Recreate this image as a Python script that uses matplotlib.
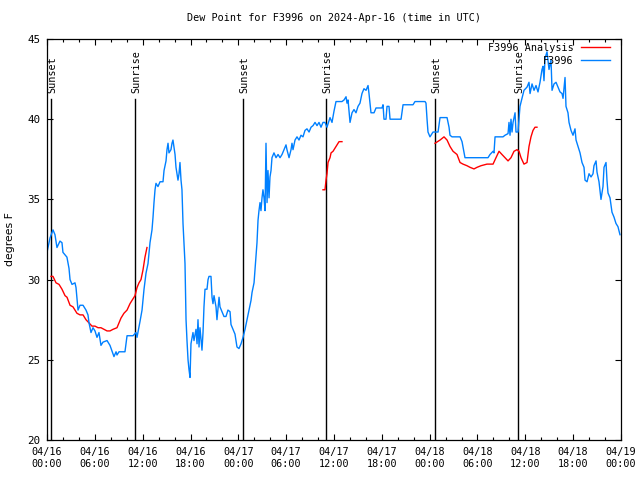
import numpy as np
from matplotlib import pyplot as plt

# hours since 2024-04-16 00:00 UTC
obs_hours = [0.0, 0.38, 0.75, 1.0, 1.25, 1.63, 1.88, 2.0, 2.5, 2.76, 2.89, 3.14, 3.51, 3.64, 3.89,
             4.14, 4.52, 4.89, 5.14, 5.27, 5.52, 5.77, 6.02, 6.27, 6.52, 6.77, 7.02, 7.53, 7.9, 8.4,
             8.66, 8.78, 9.03, 9.78, 10.04, 10.79, 11.16, 11.29, 11.67, 11.92, 12.17, 12.42, 12.67,
             12.92, 13.17, 13.3, 13.42, 13.55, 13.67, 13.92, 14.18, 14.55, 14.68, 14.93, 15.05,
             15.18, 15.3, 15.55, 15.68, 15.8, 16.06, 16.18, 16.43, 16.56, 16.68, 16.81, 16.93,
             17.06, 17.31, 17.44, 17.56, 17.69, 17.81, 17.94, 18.06, 18.31, 18.44, 18.69, 18.82,
             18.94, 19.07, 19.19, 19.44, 19.57, 19.69, 19.82, 20.07, 20.2, 20.32, 20.57, 20.7,
             20.82, 20.95, 21.2, 21.32, 21.58, 21.7, 21.95, 22.2, 22.45, 22.7, 22.96, 23.08, 23.33,
             23.58, 23.83, 24.08, 24.34, 24.59, 24.84, 25.09, 25.34, 25.59, 25.72, 25.97, 26.09,
             26.22, 26.34, 26.47, 26.59, 26.72, 26.84, 26.97, 27.09, 27.22, 27.35, 27.47, 27.6,
             27.72, 27.85, 27.97, 28.1, 28.22, 28.47, 28.73, 28.98, 29.23, 29.48, 29.73, 29.98,
             30.1, 30.36, 30.61, 30.73, 30.86, 31.11, 31.36, 31.61, 31.86, 32.11, 32.36, 32.61,
             32.87, 33.12, 33.37, 33.62, 33.87, 34.12, 34.37, 34.62, 34.87, 35.12, 35.5, 35.75,
             36.0, 36.25, 37.0, 37.26, 37.51, 37.63, 37.76, 38.01, 38.26, 38.51, 38.76, 39.01,
             39.26, 39.51, 39.76, 40.02, 40.27, 40.39, 40.64, 41.02, 41.27, 42.02, 42.15, 42.27,
             42.52, 42.65, 42.9, 43.03, 44.41, 44.66, 45.91, 46.16, 47.42, 47.54, 47.67, 47.79,
             48.04, 48.42, 49.05, 49.3, 50.18, 50.43, 50.55, 50.8, 51.81, 52.06, 52.43, 54.06,
             55.32, 55.57, 55.95, 56.07, 56.2, 57.2, 57.45, 57.83, 57.95, 58.08, 58.2, 58.33,
             58.46, 58.71, 58.83, 59.08, 59.33, 59.58, 59.83, 60.21, 60.46, 60.59, 60.84, 61.09,
             61.34, 61.59, 61.84, 62.09, 62.22, 62.34, 62.47, 62.72, 62.97, 63.22, 63.35, 63.6,
             63.85, 64.1, 64.35, 64.6, 64.73, 64.98, 65.1, 65.35, 65.48, 65.73, 65.98, 66.23,
             66.36, 66.61, 66.86, 67.11, 67.36, 67.49, 67.74, 67.99, 68.24, 68.49, 68.61, 68.87,
             68.99, 69.24, 69.49, 69.74, 69.87, 70.12, 70.24, 70.37, 70.62, 70.87, 71.12, 71.37,
             71.62, 71.87]
obs_dewpt = [31.7, 32.6, 33.1, 32.8, 32.0, 32.4, 32.3, 31.7, 31.4, 30.7, 30.0, 29.7, 29.8, 29.5, 28.1,
             28.4, 28.4, 28.1, 27.8, 27.3, 26.7, 27.0, 26.8, 26.4, 26.7, 25.9, 26.1, 26.2, 25.9, 25.2,
             25.5, 25.3, 25.5, 25.5, 26.5, 26.5, 26.7, 26.4, 27.4, 28.1, 29.4, 30.4, 31.0,
             32.3, 33.1, 33.9, 34.8, 35.6, 36.0, 35.8, 36.1, 36.1, 36.8, 37.4, 38.1,
             38.5, 37.9, 38.1, 38.5, 38.7, 37.8, 37.0, 36.2, 36.6, 37.3, 36.2, 35.6,
             33.5, 31.0, 27.5, 26.2, 25.0, 24.4, 23.9, 26.0, 26.7, 26.2, 26.9, 26.0,
             27.5, 25.8, 27.0, 25.6, 26.7, 28.3, 29.4, 29.4, 30.0, 30.2, 30.2, 28.9,
             28.5, 29.0, 28.3, 27.5, 28.9, 28.3, 28.0, 27.7, 27.7, 28.1, 28.0, 27.2, 26.9,
             26.6, 25.8, 25.7, 26.0, 26.4, 26.9, 27.5, 28.1, 28.7, 29.2, 29.8, 30.6,
             31.4, 32.3, 33.7, 34.3, 34.8, 34.3, 35.1, 35.6, 35.1, 34.3, 38.5, 34.8,
             36.8, 35.1, 36.4, 36.8, 37.6, 37.9, 37.6, 37.8, 37.6, 37.8, 38.1, 38.4,
             38.1, 37.6, 38.1, 38.5, 38.1, 38.7, 38.9, 38.7, 39.0, 38.9, 39.3, 39.4,
             39.2, 39.5, 39.6, 39.8, 39.6, 39.8, 39.5, 39.8, 39.8, 39.5, 40.1, 39.8,
             40.5, 41.1, 41.1, 41.2, 41.4, 41.0, 41.2, 39.8, 40.4, 40.6, 40.4, 40.8,
             41.0, 41.6, 41.9, 41.8, 42.1, 41.6, 40.4, 40.4, 40.7, 40.7, 40.9, 40.0,
             40.0, 40.8, 40.8, 40.0, 40.0, 40.9, 40.9, 41.1, 41.1, 41.0, 40.0, 39.2,
             38.9, 39.2, 39.2, 40.1, 40.1, 39.5, 39.0, 38.9, 38.9, 38.6, 37.6, 37.6,
             37.6, 37.8, 38.0, 37.9, 38.9, 38.9, 39.0, 39.1, 39.8, 39.0, 40.0, 39.2,
             39.8, 40.4, 39.2, 39.2, 40.8, 41.3, 41.8, 42.0, 42.3, 41.6, 42.2, 41.8,
             42.1, 41.7, 42.3, 43.1, 43.3, 42.4, 43.8, 44.2, 43.1, 43.7, 41.8, 42.2,
             42.3, 42.0, 41.7, 41.6, 41.3, 42.6, 40.8, 40.4, 39.8, 39.3, 39.0, 39.4,
             38.7, 38.3, 37.9, 37.3, 37.0, 36.2, 36.1, 36.6, 36.4, 36.6, 37.1, 37.4,
             36.7, 36.1, 35.0, 35.8, 37.0, 37.3, 36.2, 35.4, 35.1, 34.2, 33.9, 33.5,
             33.3, 32.8]

# analysis, nan marks gaps between runs
ana_hours = [0.5, 0.75, 1.13, 1.51, 1.88, 2.26, 2.51, 2.89, 3.26, 3.51, 3.76, 4.14, 4.52, 4.89, 5.27,
             5.64, 6.02, 6.4, 6.77, 7.15, 7.53, 7.9, 8.28, 8.78, 9.03, 9.28, 9.65, 10.04, 10.41,
             10.66, 11.04, 11.29, 11.54, 11.79, 12.04, 12.29, 12.54, np.nan,
             34.62, 34.87, 35.0, 35.12, 35.25, 35.5, 35.63, 35.88, 36.13, 36.38, 36.63, 37.0, np.nan,
             48.67, 49.3, 49.8, 50.18, 50.55, 50.93, 51.43, 51.81, 52.18, 52.68, 53.06, 53.56,
             53.94, 54.44, 55.19, 55.95, 56.32, 56.7, 57.07, 57.45, 57.83, 58.2, 58.58, 58.96,
             59.21, 59.46, 59.83, 60.21, 60.46, 60.71, 60.96, 61.21, 61.46]
ana_dewpt = [30.2, 30.2, 29.8, 29.7, 29.4, 29.0, 28.9, 28.4, 28.3, 28.1, 27.9, 27.8, 27.8, 27.5, 27.3,
             27.1, 27.1, 27.0, 27.0, 26.9, 26.8, 26.8, 26.9, 27.0, 27.3, 27.6, 27.9, 28.1, 28.5,
             28.7, 29.0, 29.5, 29.8, 30.0, 30.6, 31.4, 32.0, np.nan,
             35.6, 35.6, 36.2, 36.6, 37.3, 37.6, 37.9, 38.0, 38.2, 38.4, 38.6, 38.6, np.nan,
             38.5, 38.7, 38.9, 38.7, 38.3, 38.0, 37.8, 37.3, 37.2, 37.1, 37.0, 36.9,
             37.0, 37.1, 37.2, 37.2, 37.6, 38.0, 37.8, 37.6, 37.4, 37.6, 38.0, 38.1,
             38.0, 37.6, 37.2, 37.3, 38.3, 38.9, 39.3, 39.5, 39.5]

sun_hours = [0.5, 11.05, 24.6, 35.0, 48.7, 59.1]
sun_names = ['Sunset', 'Sunrise', 'Sunset', 'Sunrise', 'Sunset', 'Sunrise']

tick_hours = list(range(0, 73, 6))
tick_labels = ['04/16\n00:00', '04/16\n06:00', '04/16\n12:00', '04/16\n18:00',
               '04/17\n00:00', '04/17\n06:00', '04/17\n12:00', '04/17\n18:00',
               '04/18\n00:00', '04/18\n06:00', '04/18\n12:00', '04/18\n18:00',
               '04/19\n00:00']

mono = 'DejaVu Sans Mono'
fs = 7.3

fig = plt.figure(figsize=(6.4, 4.8), dpi=100)
ax = fig.add_axes([47/640, 40/480, 574/640, 401/480])

for h, name in zip(sun_hours, sun_names):
    ax.plot([h, h], [20, 41.25], color='k', lw=1.0)
    ax.text(h + 0.15, 41.65, name, rotation=90, ha='center', va='bottom',
            family=mono, fontsize=fs)

ax.plot(ana_hours, ana_dewpt, color='#ff0000', lw=1.0, label='F3996 Analysis')
ax.plot(obs_hours, obs_dewpt, color='#0080ff', lw=1.0, label='F3996')

ax.set_xlim(0, 72)
ax.set_ylim(20, 45)
ax.set_xticks(tick_hours)
ax.set_xticklabels(tick_labels, family=mono, fontsize=fs, linespacing=1.25)
ax.set_xticks(np.arange(0, 73, 2), minor=True)
ax.set_yticks([20, 25, 30, 35, 40, 45])
ax.set_yticklabels(['20', '25', '30', '35', '40', '45'], family=mono, fontsize=fs + 0.5)
ax.tick_params(which='major', direction='in', length=4, width=0.8, top=True, right=True, pad=5)
ax.tick_params(which='minor', direction='in', length=2.2, width=0.8, top=True)
for s in ax.spines.values():
    s.set_linewidth(0.9)

ax.set_title('Dew Point for F3996 on 2024-Apr-16 (time in UTC)', family=mono, fontsize=fs, pad=13)
ax.set_ylabel('degrees F', fontsize=fs + 0.5)
ax.yaxis.set_label_coords(-0.056, 0.5)

ax.legend(loc='upper right', bbox_to_anchor=(0.981, 0.99), frameon=False, markerfirst=False,
          prop={'family': mono, 'size': fs}, handlelength=2.9, handletextpad=0.7,
          labelspacing=0.25, borderpad=0, borderaxespad=0)

fig.savefig('out.png', dpi=100)
